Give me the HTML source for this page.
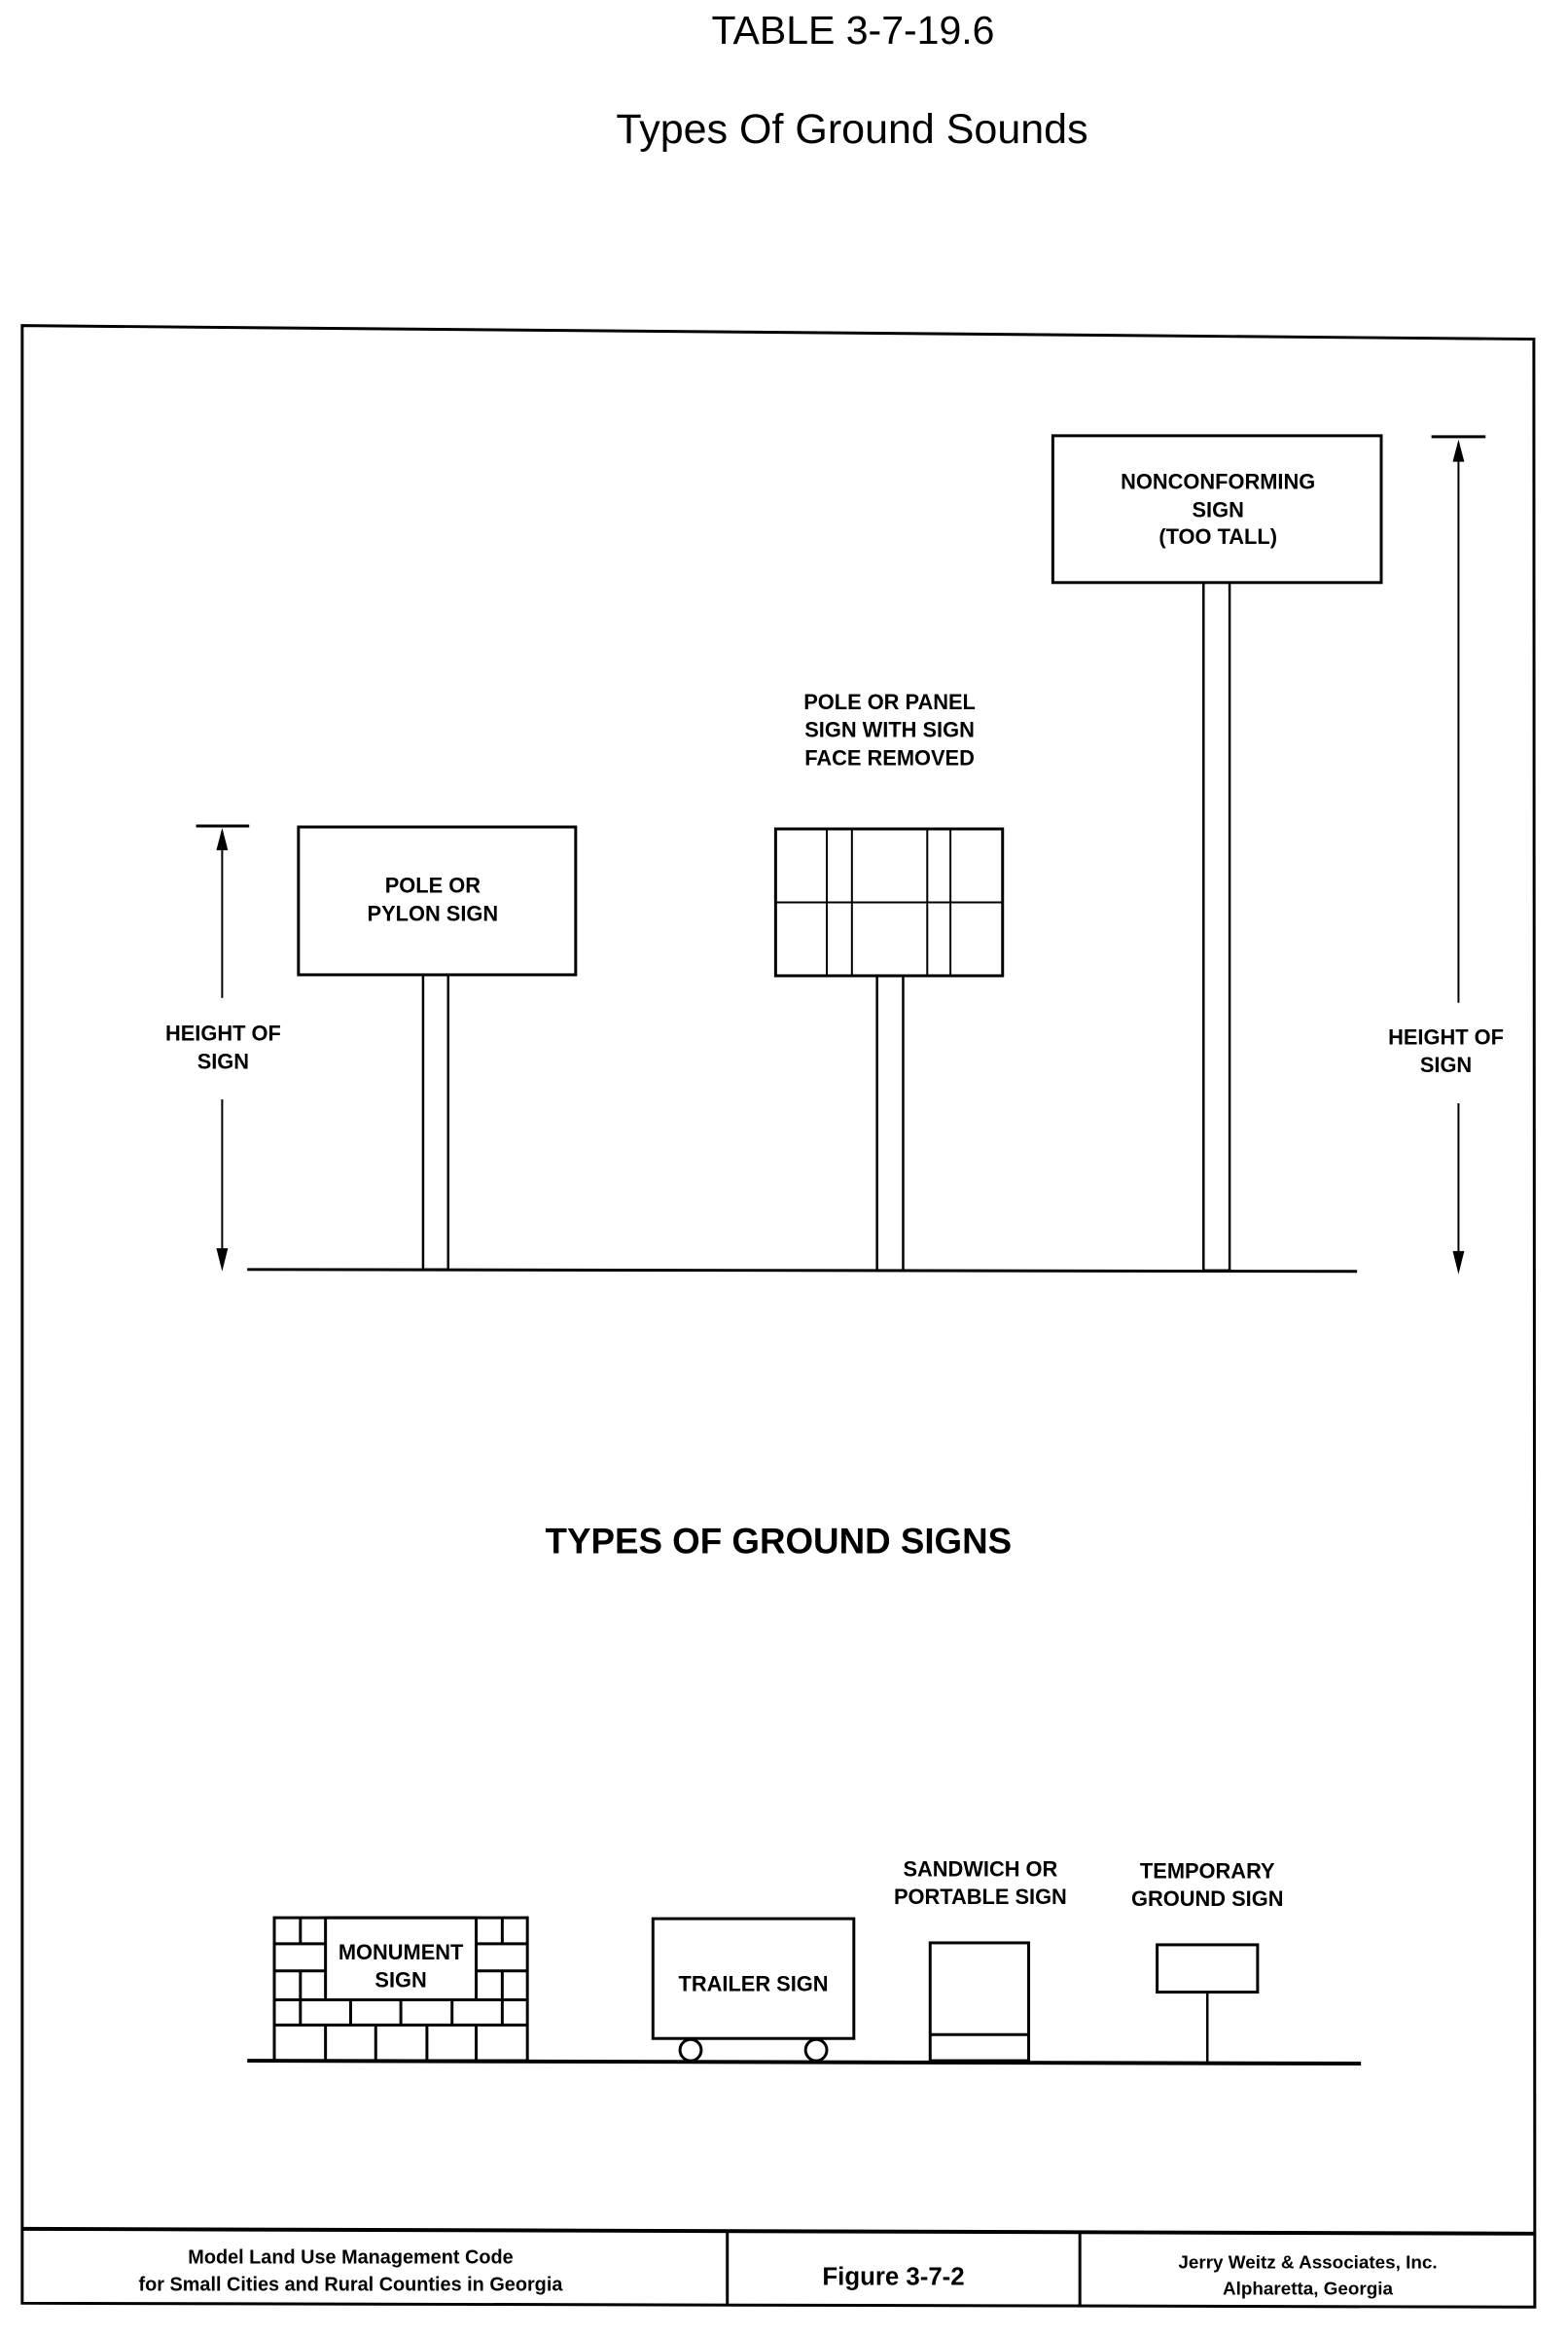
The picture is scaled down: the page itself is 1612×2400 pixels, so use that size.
<!DOCTYPE html>
<html><head><meta charset="utf-8"><style>
html,body{margin:0;padding:0;background:#fff;}
svg{display:block;}
text{font-family:"Liberation Sans",Arial,sans-serif;fill:#000;}
.b{font-weight:bold;font-size:22px;}
</style></head><body>
<svg width="1612" height="2400" viewBox="0 0 1612 2400" xmlns="http://www.w3.org/2000/svg">
<rect width="1612" height="2400" fill="#fff"/>
<text x="877" y="45" font-size="41" text-anchor="middle">TABLE 3-7-19.6</text>
<text x="876" y="147" font-size="43" text-anchor="middle">Types Of Ground Sounds</text>

<g transform="scale(0.993)">
<!-- frame -->
<polygon points="23,337 1588,351 1589,2388 23,2384" fill="none" stroke="#000" stroke-width="3"/>
<line x1="23" y1="2307" x2="1589" y2="2312" stroke="#000" stroke-width="4"/>
<line x1="753" y1="2308" x2="753" y2="2386" stroke="#000" stroke-width="3"/>
<line x1="1118" y1="2310" x2="1118" y2="2387" stroke="#000" stroke-width="3"/>

<g stroke="#000" fill="none" stroke-width="3">
<line x1="256" y1="1314" x2="1405" y2="1316"/>
<rect x="309" y="856" width="287" height="153"/>
<rect x="438" y="1009" width="26" height="305" stroke-width="2.5"/>
<rect x="803" y="858" width="235" height="152"/>
<line x1="856" y1="858" x2="856" y2="1010" stroke-width="2"/>
<line x1="882" y1="858" x2="882" y2="1010" stroke-width="2"/>
<line x1="960" y1="858" x2="960" y2="1010" stroke-width="2"/>
<line x1="984" y1="858" x2="984" y2="1010" stroke-width="2"/>
<line x1="803" y1="934" x2="1038" y2="934" stroke-width="2"/>
<rect x="908" y="1010" width="27" height="305" stroke-width="2.5"/>
<rect x="1090" y="451" width="340" height="152"/>
<rect x="1246" y="603" width="27" height="712" stroke-width="2.5"/>
<line x1="203" y1="855" x2="258" y2="855"/>
<line x1="230" y1="860" x2="230" y2="1033" stroke-width="2"/>
<line x1="230" y1="1138" x2="230" y2="1300" stroke-width="2"/>
<line x1="1482" y1="452" x2="1538" y2="452"/>
<line x1="1510" y1="458" x2="1510" y2="1038" stroke-width="2"/>
<line x1="1510" y1="1142" x2="1510" y2="1305" stroke-width="2"/>
</g>
<polygon points="224,880 236,880 230,857" fill="#000"/>
<polygon points="224,1292 236,1292 230,1316" fill="#000"/>
<polygon points="1504,478 1516,478 1510,455" fill="#000"/>
<polygon points="1504,1295 1516,1295 1510,1319" fill="#000"/>

<g text-anchor="middle">
<text class="b" x="448" y="924">POLE OR</text>
<text class="b" x="448" y="953">PYLON SIGN</text>
<text class="b" x="921" y="734">POLE OR PANEL</text>
<text class="b" x="921" y="763">SIGN WITH SIGN</text>
<text class="b" x="921" y="792">FACE REMOVED</text>
<text class="b" x="1261" y="506">NONCONFORMING</text>
<text class="b" x="1261" y="535">SIGN</text>
<text class="b" x="1261" y="563">(TOO TALL)</text>
<text class="b" x="231" y="1077">HEIGHT OF</text>
<text class="b" x="231" y="1106">SIGN</text>
<text class="b" x="1497" y="1081">HEIGHT OF</text>
<text class="b" x="1497" y="1110">SIGN</text>
</g>

<text x="806" y="1608" font-size="37" font-weight="bold" text-anchor="middle">TYPES OF GROUND SIGNS</text>

<g stroke="#000" fill="none" stroke-width="3">
<line x1="256" y1="2133" x2="1409" y2="2136" stroke-width="4"/>
<rect x="284" y="1985" width="262" height="148"/>
<rect x="337" y="1985" width="156" height="85"/>
<line x1="284" y1="2012" x2="337" y2="2012"/>
<line x1="493" y1="2012" x2="546" y2="2012"/>
<line x1="284" y1="2040" x2="337" y2="2040"/>
<line x1="493" y1="2040" x2="546" y2="2040"/>
<line x1="284" y1="2070" x2="546" y2="2070"/>
<line x1="284" y1="2096" x2="546" y2="2096"/>
<line x1="311" y1="1985" x2="311" y2="2012"/>
<line x1="311" y1="2040" x2="311" y2="2070"/>
<line x1="520" y1="1985" x2="520" y2="2012"/>
<line x1="520" y1="2040" x2="520" y2="2070"/>
<line x1="311" y1="2070" x2="311" y2="2096"/>
<line x1="363" y1="2070" x2="363" y2="2096"/>
<line x1="415" y1="2070" x2="415" y2="2096"/>
<line x1="468" y1="2070" x2="468" y2="2096"/>
<line x1="520" y1="2070" x2="520" y2="2096"/>
<line x1="337" y1="2096" x2="337" y2="2133"/>
<line x1="389" y1="2096" x2="389" y2="2133"/>
<line x1="442" y1="2096" x2="442" y2="2133"/>
<line x1="493" y1="2096" x2="493" y2="2133"/>
<rect x="676" y="1986" width="208" height="124"/>
<ellipse cx="715" cy="2122" rx="11" ry="11"/>
<ellipse cx="845" cy="2122" rx="11" ry="11"/>
<rect x="963" y="2011" width="102" height="122"/>
<line x1="963" y1="2106" x2="1065" y2="2106"/>
<rect x="1198" y="2013" width="104" height="49"/>
<line x1="1250" y1="2062" x2="1250" y2="2134" stroke-width="2.5"/>
</g>
<g text-anchor="middle">
<text class="b" x="415" y="2028">MONUMENT</text>
<text class="b" x="415" y="2057">SIGN</text>
<text class="b" x="780" y="2061">TRAILER SIGN</text>
<text class="b" x="1015" y="1942">SANDWICH OR</text>
<text class="b" x="1015" y="1971">PORTABLE SIGN</text>
<text class="b" x="1250" y="1944">TEMPORARY</text>
<text class="b" x="1250" y="1973">GROUND SIGN</text>
<text x="363" y="2343" font-size="20" font-weight="bold">Model Land Use Management Code</text>
<text x="363" y="2371" font-size="20" font-weight="bold">for Small Cities and Rural Counties in Georgia</text>
<text x="925" y="2365" font-size="26" font-weight="bold">Figure 3-7-2</text>
<text x="1354" y="2348" font-size="19" font-weight="bold">Jerry Weitz &amp; Associates, Inc.</text>
<text x="1354" y="2375" font-size="19" font-weight="bold">Alpharetta, Georgia</text>
</g>
</g>
</svg>
</body></html>
